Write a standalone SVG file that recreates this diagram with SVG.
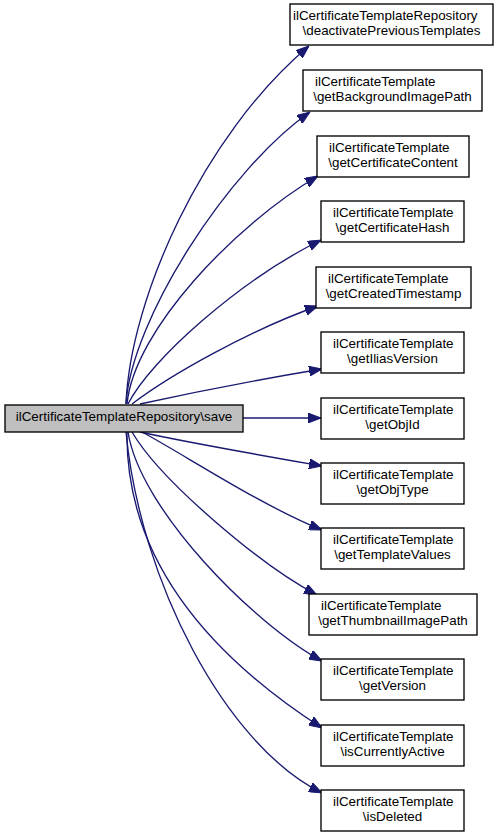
<svg xmlns="http://www.w3.org/2000/svg" width="501" height="836" viewBox="0 0 501 836">
<defs>
<style>
.node rect{fill:#ffffff;stroke:#000000;stroke-width:1.35}
.node.main rect{fill:#bfbfbf}
.node text{font-family:"Liberation Sans",Arial,Helvetica,sans-serif;font-size:13.4px;fill:#000000}
.s{text-anchor:start}
.m{text-anchor:middle}
.edges path{fill:none;stroke:#191970;stroke-width:1.35;marker-end:url(#arr)}
</style>
<marker id="arr" viewBox="0 0 13 10" refX="13" refY="5" markerWidth="13" markerHeight="10" markerUnits="userSpaceOnUse" orient="auto">
<path d="M0,0 L13,5 L0,10 z" fill="#191970" stroke="#191970" stroke-width="1"/>
</marker>
</defs>
<rect width="501" height="836" fill="#ffffff"/>
<g class="edges" id="edges">
<path d="M126,404 C130,300 202,136 309,46"/>
<path d="M126,404 C131,320 228,169 310,112"/>
<path d="M127,404 C134,330 236,224 318,176"/>
<path d="M128,404 C150,360 240,280 321,240"/>
<path d="M132,404 C170,375 250,330 318,306"/>
<path d="M140,404 C190,393 262,379 322,369"/>
<path d="M243,418 L321,418"/>
<path d="M140,432 C190,443 265,456 322,466"/>
<path d="M142,432 C185,455 260,505 322,530"/>
<path d="M132,432 C160,480 260,565 317,595"/>
<path d="M128,432 C140,510 255,625 322,661"/>
<path d="M127,432 C125,580 240,675 322,728"/>
<path d="M126,432 C140,580 225,745 322,793"/>
</g>
<g class="node main" id="node_save">
<rect x="5" y="405" width="238" height="27"/>
<text class="m" x="124" y="421">ilCertificateTemplateRepository\save</text>
</g>
<g class="node" id="node_deactivate">
<rect x="290" y="4" width="203" height="41"/>
<text class="s" x="293" y="20">ilCertificateTemplateRepository</text>
<text class="m" x="391.5" y="34.5">\deactivatePreviousTemplates</text>
</g>
<g class="node" id="node_bg">
<rect x="303" y="70" width="179" height="41"/>
<text class="s" x="315" y="86">ilCertificateTemplate</text>
<text class="m" x="392.5" y="100.5">\getBackgroundImagePath</text>
</g>
<g class="node" id="node_content">
<rect x="317" y="136" width="152" height="41"/>
<text class="s" x="329" y="152">ilCertificateTemplate</text>
<text class="m" x="393" y="166.5">\getCertificateContent</text>
</g>
<g class="node" id="node_hash">
<rect x="321" y="201" width="143" height="41"/>
<text class="s" x="333" y="217">ilCertificateTemplate</text>
<text class="m" x="392.5" y="231.5">\getCertificateHash</text>
</g>
<g class="node" id="node_timestamp">
<rect x="316" y="267" width="155" height="41"/>
<text class="s" x="328" y="283">ilCertificateTemplate</text>
<text class="m" x="393.5" y="297.5">\getCreatedTimestamp</text>
</g>
<g class="node" id="node_ilias">
<rect x="321" y="332" width="143" height="41"/>
<text class="s" x="333" y="348">ilCertificateTemplate</text>
<text class="m" x="392.5" y="362.5">\getIliasVersion</text>
</g>
<g class="node" id="node_objid">
<rect x="321" y="398" width="143" height="41"/>
<text class="s" x="333" y="414">ilCertificateTemplate</text>
<text class="m" x="392.5" y="428.5">\getObjId</text>
</g>
<g class="node" id="node_objtype">
<rect x="321" y="463" width="143" height="41"/>
<text class="s" x="333" y="479">ilCertificateTemplate</text>
<text class="m" x="392.5" y="493.5">\getObjType</text>
</g>
<g class="node" id="node_templatevalues">
<rect x="321" y="528" width="143" height="41"/>
<text class="s" x="333" y="544">ilCertificateTemplate</text>
<text class="m" x="392.5" y="558.5">\getTemplateValues</text>
</g>
<g class="node" id="node_thumbnail">
<rect x="309" y="594" width="168" height="41"/>
<text class="s" x="321" y="610">ilCertificateTemplate</text>
<text class="m" x="393" y="624.5">\getThumbnailImagePath</text>
</g>
<g class="node" id="node_version">
<rect x="321" y="659" width="143" height="41"/>
<text class="s" x="333" y="675">ilCertificateTemplate</text>
<text class="m" x="392.5" y="689.5">\getVersion</text>
</g>
<g class="node" id="node_active">
<rect x="321" y="725" width="143" height="41"/>
<text class="s" x="333" y="741">ilCertificateTemplate</text>
<text class="m" x="392.5" y="755.5">\isCurrentlyActive</text>
</g>
<g class="node" id="node_deleted">
<rect x="321" y="790" width="143" height="41"/>
<text class="s" x="333" y="806">ilCertificateTemplate</text>
<text class="m" x="392.5" y="820.5">\isDeleted</text>
</g>
</svg>
